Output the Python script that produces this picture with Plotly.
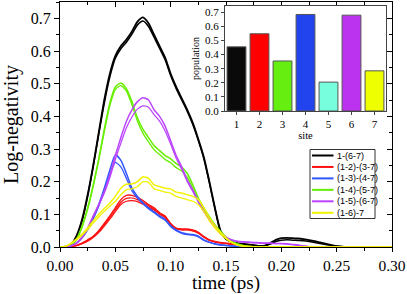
import plotly.graph_objects as go

# ---------------- data ----------------
time_ps = [0.0, 0.005, 0.01, 0.015, 0.02, 0.025, 0.03, 0.035, 0.04, 0.045,
           0.05, 0.055, 0.06, 0.065, 0.07, 0.075, 0.08, 0.085, 0.09, 0.095,
           0.1, 0.105, 0.11, 0.115, 0.12, 0.125, 0.13, 0.135, 0.14, 0.145,
           0.15, 0.155, 0.16, 0.165, 0.17, 0.175, 0.18, 0.185, 0.19, 0.195,
           0.2, 0.205, 0.21, 0.215, 0.22, 0.225, 0.23, 0.235, 0.24, 0.245,
           0.25, 0.255, 0.26, 0.265, 0.27, 0.275, 0.28, 0.285, 0.29, 0.295, 0.3]

black_a = [0, 0.001, 0.008, 0.035, 0.085, 0.16, 0.25, 0.35, 0.45, 0.53,
           0.585, 0.615, 0.635, 0.66, 0.69, 0.703, 0.685, 0.65, 0.615, 0.58,
           0.53, 0.49, 0.455, 0.42, 0.38, 0.33, 0.275, 0.2, 0.12, 0.05,
           0.025, 0.016, 0.012, 0.01, 0.008, 0.006, 0.003, 0.004, 0.012, 0.022,
           0.027, 0.028, 0.027, 0.026, 0.024, 0.021, 0.018, 0.014, 0.01, 0.006,
           0.003, 0.001, 0, 0, 0, 0, 0, 0, 0, 0, 0]
black_b = [0, 0.001, 0.007, 0.032, 0.08, 0.155, 0.245, 0.345, 0.44, 0.52,
           0.578, 0.607, 0.627, 0.652, 0.68, 0.692, 0.675, 0.642, 0.608, 0.573,
           0.525, 0.485, 0.45, 0.415, 0.375, 0.326, 0.27, 0.196, 0.117, 0.048,
           0.024, 0.015, 0.011, 0.009, 0.007, 0.005, 0.003, 0.003, 0.009, 0.017,
           0.021, 0.022, 0.021, 0.02, 0.019, 0.017, 0.014, 0.011, 0.008, 0.005,
           0.002, 0.001, 0, 0, 0, 0, 0, 0, 0, 0, 0]

red_a = [0, 0, 0.002, 0.005, 0.012, 0.022, 0.033, 0.05, 0.072, 0.095,
         0.12, 0.145, 0.158, 0.158, 0.152, 0.142, 0.13, 0.12, 0.105, 0.095,
         0.072, 0.058, 0.055, 0.055, 0.052, 0.045, 0.032, 0.022, 0.017, 0.014,
         0.012, 0.01, 0.007, 0.004, 0.002, 0.001, 0, 0, 0, 0,
         0, 0, 0, 0, 0, 0, 0, 0, 0, 0, 0, 0, 0, 0, 0, 0, 0, 0, 0, 0, 0]
red_b = [0, 0, 0.002, 0.005, 0.011, 0.02, 0.031, 0.047, 0.068, 0.09,
         0.114, 0.137, 0.149, 0.15, 0.145, 0.136, 0.126, 0.116, 0.102, 0.092,
         0.07, 0.056, 0.053, 0.053, 0.05, 0.043, 0.031, 0.021, 0.016, 0.013,
         0.011, 0.009, 0.006, 0.004, 0.002, 0.001, 0, 0, 0, 0,
         0, 0, 0, 0, 0, 0, 0, 0, 0, 0, 0, 0, 0, 0, 0, 0, 0, 0, 0, 0, 0]
red_c = [0, 0, 0.002, 0.004, 0.01, 0.018, 0.029, 0.044, 0.064, 0.085,
         0.108, 0.13, 0.14, 0.142, 0.139, 0.131, 0.122, 0.113, 0.1, 0.09,
         0.068, 0.055, 0.052, 0.052, 0.049, 0.042, 0.03, 0.02, 0.015, 0.012,
         0.01, 0.008, 0.006, 0.003, 0.002, 0.001, 0, 0, 0, 0,
         0, 0, 0, 0, 0, 0, 0, 0, 0, 0, 0, 0, 0, 0, 0, 0, 0, 0, 0, 0, 0]

blue_a = [0, 0.001, 0.004, 0.013, 0.03, 0.055, 0.09, 0.13, 0.18, 0.235,
          0.282, 0.265, 0.225, 0.18, 0.155, 0.135, 0.12, 0.108, 0.095, 0.085,
          0.065, 0.052, 0.044, 0.04, 0.038, 0.033, 0.022, 0.015, 0.01, 0.007,
          0.005, 0.003, 0.002, 0.001, 0, 0, 0, 0, 0, 0,
          0, 0, 0, 0, 0, 0, 0, 0, 0, 0, 0, 0, 0, 0, 0, 0, 0, 0, 0, 0, 0]
blue_b = [0, 0.001, 0.004, 0.012, 0.028, 0.052, 0.086, 0.125, 0.172, 0.222,
          0.259, 0.245, 0.21, 0.172, 0.15, 0.132, 0.117, 0.105, 0.092, 0.082,
          0.062, 0.05, 0.042, 0.038, 0.036, 0.031, 0.02, 0.014, 0.009, 0.006,
          0.004, 0.003, 0.002, 0.001, 0, 0, 0, 0, 0, 0,
          0, 0, 0, 0, 0, 0, 0, 0, 0, 0, 0, 0, 0, 0, 0, 0, 0, 0, 0, 0, 0]

green_a = [0, 0.001, 0.006, 0.025, 0.065, 0.12, 0.19, 0.27, 0.36, 0.44,
           0.49, 0.502, 0.485, 0.445, 0.395, 0.36, 0.335, 0.31, 0.295, 0.28,
           0.27, 0.255, 0.245, 0.225, 0.19, 0.15, 0.12, 0.093, 0.068, 0.048,
           0.03, 0.018, 0.01, 0.005, 0.002, 0.001, 0, 0, 0, 0,
           0, 0, 0, 0, 0, 0, 0, 0, 0, 0, 0, 0, 0, 0, 0, 0, 0, 0, 0, 0, 0]
green_b = [0, 0.001, 0.005, 0.022, 0.06, 0.115, 0.185, 0.265, 0.352, 0.432,
           0.482, 0.494, 0.477, 0.435, 0.385, 0.348, 0.322, 0.298, 0.283, 0.268,
           0.258, 0.243, 0.233, 0.213, 0.18, 0.143, 0.115, 0.09, 0.066, 0.047,
           0.029, 0.017, 0.009, 0.005, 0.002, 0.001, 0, 0, 0, 0,
           0, 0, 0, 0, 0, 0, 0, 0, 0, 0, 0, 0, 0, 0, 0, 0, 0, 0, 0, 0, 0]

purple_a = [0, 0.001, 0.004, 0.012, 0.03, 0.058, 0.095, 0.13, 0.17, 0.22,
            0.28, 0.335, 0.385, 0.42, 0.445, 0.457, 0.45, 0.42, 0.4, 0.37,
            0.325, 0.28, 0.245, 0.205, 0.175, 0.14, 0.11, 0.085, 0.065, 0.042,
            0.03, 0.022, 0.018, 0.016, 0.015, 0.014, 0.013, 0.012, 0.012, 0.011,
            0.011, 0.01, 0.008, 0.006, 0.003, 0.001, 0, 0, 0, 0,
            0, 0, 0, 0, 0, 0, 0, 0, 0, 0, 0]
purple_b = [0, 0.001, 0.004, 0.012, 0.03, 0.057, 0.093, 0.128, 0.165, 0.212,
            0.268, 0.318, 0.365, 0.398, 0.422, 0.432, 0.428, 0.405, 0.385, 0.355,
            0.315, 0.272, 0.238, 0.2, 0.17, 0.137, 0.108, 0.083, 0.063, 0.041,
            0.029, 0.021, 0.017, 0.015, 0.014, 0.013, 0.012, 0.011, 0.011, 0.01,
            0.01, 0.009, 0.007, 0.005, 0.003, 0.001, 0, 0, 0, 0,
            0, 0, 0, 0, 0, 0, 0, 0, 0, 0, 0]

yellow_a = [0, 0.002, 0.012, 0.025, 0.04, 0.058, 0.08, 0.1, 0.118, 0.135,
            0.155, 0.18, 0.192, 0.193, 0.2, 0.215, 0.21, 0.19, 0.185, 0.18,
            0.178, 0.168, 0.165, 0.16, 0.155, 0.145, 0.12, 0.09, 0.065, 0.045,
            0.028, 0.015, 0.007, 0.003, 0.001, 0, 0, 0, 0, 0,
            0, 0, 0, 0, 0, 0, 0, 0, 0, 0, 0, 0, 0, 0, 0, 0, 0, 0, 0, 0, 0]
yellow_b = [0, 0.002, 0.01, 0.022, 0.036, 0.053, 0.073, 0.092, 0.109, 0.125,
            0.14, 0.16, 0.175, 0.178, 0.185, 0.2, 0.198, 0.178, 0.173, 0.168,
            0.165, 0.155, 0.15, 0.145, 0.14, 0.13, 0.108, 0.08, 0.058, 0.04,
            0.025, 0.013, 0.006, 0.003, 0.001, 0, 0, 0, 0, 0,
            0, 0, 0, 0, 0, 0, 0, 0, 0, 0, 0, 0, 0, 0, 0, 0, 0, 0, 0, 0, 0]

series_names = ["1-(6-7)", "(1-2)-(3-7)", "(1-3)-(4-7)", "(1-4)-(5-7)", "(1-5)-(6-7)", "(1-6)-7"]
series_colors = ["#000000", "#ff1010", "#3355ff", "#66ee00", "#bb44ff", "#f2f200"]
series_data = [[black_a, black_b], [red_a, red_b, red_c], [blue_a, blue_b],
               [green_a, green_b], [purple_a, purple_b], [yellow_a, yellow_b]]
series_widths = [1.8, 1.4, 1.5, 1.5, 1.5, 1.5]

site = [1, 2, 3, 4, 5, 6, 7]
population = [0.455, 0.548, 0.355, 0.685, 0.205, 0.68, 0.285]
bar_colors = ["#0a0a0a", "#ff0000", "#66ee11", "#2244ee", "#77ffdd", "#bb33ee", "#eeff00"]

x_ticks = [0.0, 0.05, 0.10, 0.15, 0.20, 0.25, 0.30]
y_ticks = [0.0, 0.1, 0.2, 0.3, 0.4, 0.5, 0.6, 0.7]

SERIF = "Liberation Serif"
SANS = "Liberation Sans"

# ---------------- figure ----------------
W, H = 407, 294
ML, MR, MT, MB = 60, 15, 2, 47
PW, PH = W - ML - MR, H - MT - MB


def xp(px):
    return (px - ML) / PW


def yp(py):
    return (H - MB - py) / PH


fig = go.Figure()

for name, color, curves, lw in zip(series_names, series_colors, series_data, series_widths):
    for k, ys in enumerate(curves):
        fig.add_trace(go.Scatter(
            x=time_ps, y=ys, mode="lines", name=name, showlegend=False,
            line=dict(color=color, width=lw if k == 0 else lw * 0.85, shape="spline", smoothing=0.6),
            hoverinfo="skip", xaxis="x", yaxis="y"))

# dummy trace for mirrored (top/right) axes
fig.add_trace(go.Scatter(x=[None], y=[None], xaxis="x3", yaxis="y3", showlegend=False, hoverinfo="skip"))

# inset bars
fig.add_trace(go.Bar(
    x=site, y=population, width=0.82, xaxis="x2", yaxis="y2", showlegend=False,
    marker=dict(color=bar_colors, line=dict(color="#555555", width=1)), hoverinfo="skip"))

axis_common = dict(showline=True, linecolor="black", linewidth=1, showgrid=False, zeroline=False,
                   tickcolor="black", tickwidth=1, automargin=False)

fig.update_layout(
    width=W, height=H, margin=dict(l=ML, r=MR, t=MT, b=MB, autoexpand=False),
    paper_bgcolor="white", plot_bgcolor="white",
    font=dict(family=SERIF, color="black"),
    xaxis=dict(range=[0, 0.30], tickvals=x_ticks, ticktext=[f"{v:.2f}" for v in x_ticks],
               ticks="outside", ticklen=4,
               minor=dict(dtick=0.025, tick0=0, ticks="outside", ticklen=3, tickcolor="black"),
               tickfont=dict(size=15.5, family=SERIF),
               title=dict(text="time (ps)", font=dict(size=19, family=SERIF), standoff=6),
               layer="below traces", **axis_common),
    yaxis=dict(range=[0, 0.75], tickvals=y_ticks, ticktext=[f"{v:.1f}" for v in y_ticks],
               ticks="outside", ticklen=5,
               minor=dict(dtick=0.05, tick0=0, ticks="outside", ticklen=3, tickcolor="black"),
               tickfont=dict(size=16, family=SERIF),
               title=dict(text="Log-negativity", font=dict(size=20, family=SERIF), standoff=8),
               layer="below traces", **axis_common),
    xaxis3=dict(range=[0, 0.30], overlaying="x", side="top", anchor="y", tickvals=x_ticks,
                showticklabels=False, ticks="inside", ticklen=5,
                minor=dict(dtick=0.025, tick0=0, ticks="inside", ticklen=3, tickcolor="black"),
                **axis_common),
    yaxis3=dict(range=[0, 0.75], overlaying="y", side="right", anchor="x", tickvals=y_ticks,
                showticklabels=False, ticks="inside", ticklen=5,
                minor=dict(dtick=0.05, tick0=0, ticks="inside", ticklen=3, tickcolor="black"),
                **axis_common),
    xaxis2=dict(domain=[xp(225), xp(386)], anchor="y2", range=[0.5, 7.5], tickvals=site,
                ticks="outside", ticklen=3, mirror=True, automargin=False,
                tickfont=dict(size=11, family=SERIF),
                title=dict(text="site", font=dict(size=10.5, family=SERIF), standoff=2),
                showline=True, linecolor="#444444", linewidth=1, showgrid=False, zeroline=False,
                tickcolor="#444444"),
    yaxis2=dict(domain=[yp(111), yp(6)], anchor="x2", range=[0, 0.745], tickvals=y_ticks,
                ticktext=[f"{v:.1f}" for v in y_ticks],
                ticks="outside", ticklen=3, mirror=True, automargin=False,
                tickfont=dict(size=11, family=SERIF),
                title=dict(text="population", font=dict(size=10, family=SERIF), standoff=3),
                showline=True, linecolor="#444444", linewidth=1, showgrid=False, zeroline=False,
                tickcolor="#444444"),
    bargap=0.18,
)

# manual legend (compact, like the original)
box_l, box_r, box_t, box_b = 310, 375, 149.5, 218.5
fig.add_shape(type="rect", xref="paper", yref="paper",
              x0=xp(box_l), x1=xp(box_r), y0=yp(box_b), y1=yp(box_t),
              line=dict(color="#333333", width=1), fillcolor="white", layer="above")
row0, step = 155.5, 11.45
for i, (name, color, lw) in enumerate(zip(series_names, series_colors, series_widths)):
    py = row0 + i * step
    fig.add_shape(type="line", xref="paper", yref="paper",
                  x0=xp(312), x1=xp(333.5), y0=yp(py), y1=yp(py),
                  line=dict(color=color, width=2), layer="above")
    fig.add_annotation(xref="paper", yref="paper", x=xp(334.5), y=yp(py), text=name,
                       showarrow=False, xanchor="left", yanchor="middle",
                       font=dict(size=9, family=SANS, color="black"))

fig.write_html("out.html",
               config={"displayModeBar": False, "staticPlot": True},
               post_script="document.body.style.margin='0px';document.body.style.overflow='hidden';")
